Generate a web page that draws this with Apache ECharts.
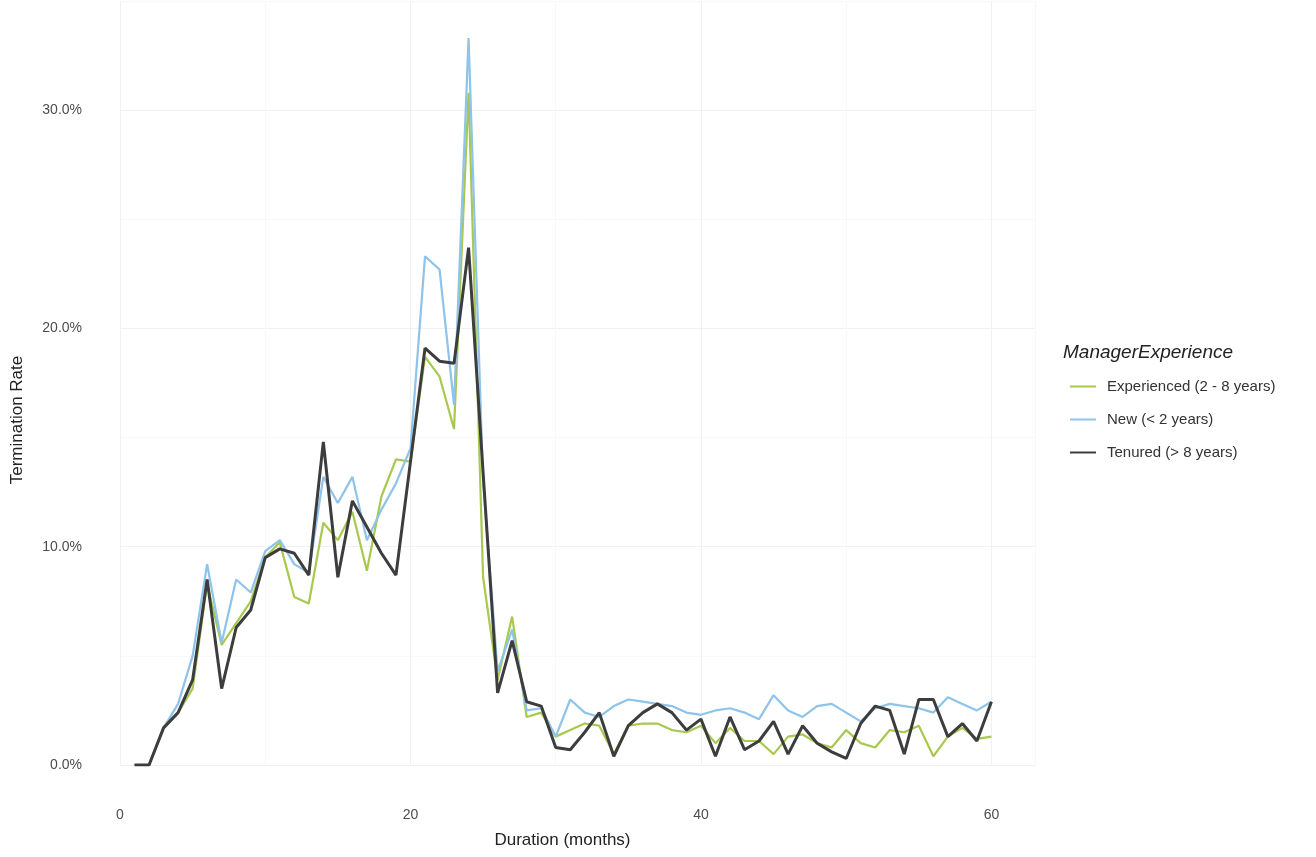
<!DOCTYPE html>
<html>
<head>
<meta charset="utf-8">
<script src="https://cdn.jsdelivr.net/npm/echarts@6/dist/echarts.min.js"></script>
<style>
html,body{margin:0;padding:0;background:#fff;}
#chart{width:1316px;height:857px;}
</style>
</head>
<body>
<div id="chart"></div>
<script>
const months = [1,2,3,4,5,6,7,8,9,10,11,12,13,14,15,16,17,18,19,20,
  21,22,23,24,25,26,27,28,29,30,31,32,33,34,35,36,37,38,39,40,
  41,42,43,44,45,46,47,48,49,50,51,52,53,54,55,56,57,58,59,60];

const experienced = [0,0,1.7,2.4,3.5,8.3,5.5,6.5,7.5,9.5,10.2,7.7,7.4,11.1,10.3,11.6,8.9,12.3,14.0,13.9,
  18.7,17.8,15.4,30.8,8.6,3.9,6.8,2.2,2.4,1.3,1.6,1.9,1.8,0.5,1.8,1.9,1.9,1.6,1.5,1.8,
  1.0,1.7,1.1,1.1,0.5,1.3,1.4,1.0,0.8,1.6,1.0,0.8,1.6,1.5,1.8,0.4,1.3,1.7,1.2,1.3];

const newMgr = [0,0,1.7,2.8,5.0,9.2,5.6,8.5,7.9,9.8,10.3,9.2,8.8,13.2,12.0,13.2,10.3,11.7,12.9,14.5,
  23.3,22.7,16.5,33.3,13.0,4.3,6.2,2.5,2.6,1.3,3.0,2.4,2.2,2.7,3.0,2.9,2.8,2.7,2.4,2.3,
  2.5,2.6,2.4,2.1,3.2,2.5,2.2,2.7,2.8,2.4,2.0,2.6,2.8,2.7,2.6,2.4,3.1,2.8,2.5,2.9];

const tenured = [0,0,1.7,2.4,3.9,8.5,3.5,6.3,7.1,9.5,9.9,9.7,8.7,14.8,8.6,12.1,10.9,9.7,8.7,13.9,
  19.1,18.5,18.4,23.7,13.4,3.3,5.7,2.9,2.7,0.8,0.7,1.5,2.4,0.4,1.8,2.4,2.8,2.4,1.6,2.1,
  0.4,2.2,0.7,1.1,2.0,0.5,1.8,1.0,0.6,0.3,1.9,2.7,2.5,0.5,3.0,3.0,1.3,1.9,1.1,2.9];

const seriesNames = ['Experienced (2 - 8 years)', 'New (< 2 years)', 'Tenured (> 8 years)'];
const xTickLabels = [0, 20, 40, 60];
const yTickLabels = [0, 10, 20, 30];

const FONT = "'Liberation Sans', Arial, Helvetica, sans-serif";
const pair = arr => months.map((m, i) => [m, arr[i]]);

const chart = echarts.init(document.getElementById('chart'));
chart.setOption({
  animation: false,
  backgroundColor: '#ffffff',
  textStyle: { fontFamily: FONT },
  title: {
    text: 'ManagerExperience',
    left: 1058,
    top: 338,
    textStyle: { fontFamily: FONT, fontStyle: 'italic', fontWeight: 'normal', fontSize: 19, color: '#222' }
  },
  legend: {
    orient: 'vertical',
    left: 1064,
    top: 374,
    itemWidth: 26,
    itemHeight: 14,
    itemGap: 18,
    data: seriesNames,
    itemStyle: { opacity: 0 },
    textStyle: { fontFamily: FONT, fontSize: 15, color: '#333', padding: [0, 0, 0, 6] }
  },
  grid: { left: 120, right: 281, top: 1, bottom: 92 },
  xAxis: {
    type: 'value',
    min: 0,
    max: 63,
    interval: 10,
    name: 'Duration (months)',
    nameLocation: 'middle',
    nameGap: 67,
    nameTextStyle: { fontFamily: FONT, fontSize: 17, color: '#222', padding: [0, 30, 0, 0] },
    axisLine: { show: false },
    axisTick: { show: false },
    axisLabel: {
      margin: 43,
      fontSize: 14,
      color: '#4d4d4d',
      fontFamily: FONT,
      formatter: v => (xTickLabels.indexOf(v) >= 0 ? String(v) : '')
    },
    splitLine: { show: true, lineStyle: { color: ['#f1f1f1', '#f8f8f8'], width: 1 } }
  },
  yAxis: {
    type: 'value',
    min: 0,
    max: 35,
    interval: 5,
    name: 'Termination Rate',
    nameLocation: 'middle',
    nameGap: 94,
    nameTextStyle: { fontFamily: FONT, fontSize: 17, color: '#222', padding: [0, 74, 0, 0] },
    axisLine: { show: false },
    axisTick: { show: false },
    axisLabel: {
      margin: 38,
      fontSize: 14,
      color: '#4d4d4d',
      fontFamily: FONT,
      formatter: v => (yTickLabels.indexOf(v) >= 0 ? v.toFixed(1) + '%' : '')
    },
    splitLine: { show: true, lineStyle: { color: ['#f1f1f1', '#f8f8f8'], width: 1 } }
  },
  series: [
    {
      name: seriesNames[0], type: 'line', data: pair(experienced),
      symbol: 'none', showSymbol: false, z: 2,
      lineStyle: { color: '#a8c94f', width: 2.2 }, itemStyle: { color: '#a8c94f' }
    },
    {
      name: seriesNames[1], type: 'line', data: pair(newMgr),
      symbol: 'none', showSymbol: false, z: 3,
      lineStyle: { color: '#8ec3ea', width: 2.2 }, itemStyle: { color: '#8ec3ea' }
    },
    {
      name: seriesNames[2], type: 'line', data: pair(tenured),
      symbol: 'none', showSymbol: false, z: 4,
      lineStyle: { color: '#3d3d3d', width: 3 }, itemStyle: { color: '#3d3d3d' }
    }
  ]
});
</script>
</body>
</html>
